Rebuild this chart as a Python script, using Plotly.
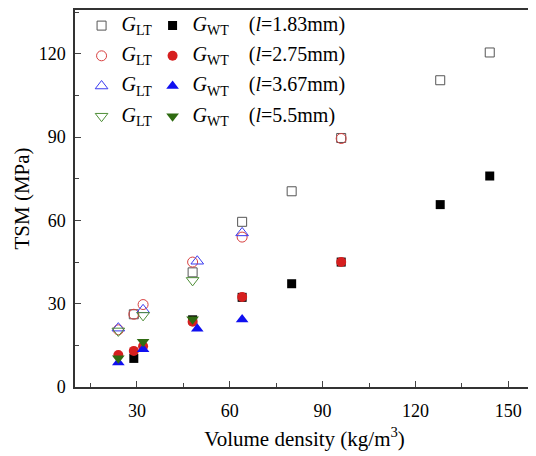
import plotly.graph_objects as go

# ---- data ----
dens_183 = [29, 48, 64, 80, 96, 128, 144]
glt_183 = [26.2, 41.3, 59.5, 70.5, 89.7, 110.5, 120.5]
gwt_183 = [10.3, 24.2, 32.3, 37.2, 45.0, 65.7, 76.0]

dens_275 = [24, 29, 32, 48, 64, 96]
glt_275 = [20.6, 26.2, 29.7, 45.0, 54.0, 89.5]
gwt_275 = [11.5, 13.0, 14.7, 23.5, 32.4, 45.0]

dens_367 = [24, 32, 49.5, 64]
glt_367 = [21.2, 27.8, 45.3, 55.5]
gwt_367 = [8.8, 13.6, 21.0, 24.3]

dens_55 = [24, 32, 48]
glt_55 = [20.2, 25.8, 38.4]
gwt_55 = [10.4, 16.3, 24.4]

cell_lengths = ["1.83", "2.75", "3.67", "5.5"]
x_ticks = [30, 60, 90, 120, 150]
y_ticks = [0, 30, 60, 90, 120]

FONT = "Liberation Serif"
series = [
    (dens_183, glt_183, gwt_183, "square", "#000000", "#555555", 9),
    (dens_275, glt_275, gwt_275, "circle", "#d61f1f", "#d84040", 10),
    (dens_367, glt_367, gwt_367, "triangle-up", "#1010f0", "#3b3bf0", 11),
    (dens_55, glt_55, gwt_55, "triangle-down", "#2f6b12", "#4f8f38", 11),
]

def big(txt):
    return '<span style="font-size:20px">' + txt + '</span>'

fig = go.Figure()
for i, (xd, lt, wt, sym, col, ocol, sz) in enumerate(series):
    fig.add_trace(go.Scatter(
        x=xd, y=lt, mode="markers",
        name=big("<i>G</i><sub>LT</sub>"),
        legend="legend", legendgroup=f"lt{i}", legendrank=i,
        marker=dict(symbol=sym + "-open", size=sz, color=ocol, line=dict(width=1, color=ocol)),
    ))
for i, (xd, lt, wt, sym, col, ocol, sz) in enumerate(series):
    fig.add_trace(go.Scatter(
        x=xd, y=wt, mode="markers",
        name=big("<i>G</i><sub>WT</sub>\u00a0\u00a0\u00a0\u00a0(<i>l</i>=" + cell_lengths[i] + "mm)"),
        legend="legend2", legendgroup=f"wt{i}", legendrank=i,
        marker=dict(symbol=sym, size=sz, color=col, line=dict(width=0)),
    ))

leg_common = dict(
    bgcolor="rgba(0,0,0,0)", borderwidth=0,
    font=dict(family=FONT, size=14, color="#000"),
    tracegroupgap=9, itemclick=False, yanchor="top", xanchor="left",
    y=1.0,
)

fig.update_layout(
    width=528, height=448,
    margin=dict(l=67, r=0, t=1, b=69),
    paper_bgcolor="white", plot_bgcolor="white",
    font=dict(family=FONT, size=18, color="#000"),
    showlegend=True,
    legend=dict(x=0.0143, **leg_common),
    legend2=dict(x=0.169, **leg_common),
    xaxis=dict(
        range=[10, 158.3], tickvals=x_ticks, ticks="inside", ticklen=6, tickwidth=1,
        minor=dict(dtick=15, tick0=15, ticks="inside", ticklen=4),
        showline=True, linecolor="#333", linewidth=1.5, mirror=True,
        showgrid=False, zeroline=False, ticklabelstandoff=7,
        title=dict(text="Volume density (kg/m<sup>3</sup>)", font=dict(size=21), standoff=11),
        tickfont=dict(size=18),
    ),
    yaxis=dict(
        range=[0, 135.8], tickvals=y_ticks, ticks="inside", ticklen=6, tickwidth=1,
        minor=dict(dtick=15, tick0=15, ticks="inside", ticklen=4),
        showline=True, linecolor="#333", linewidth=1.5, mirror=True,
        showgrid=False, zeroline=False, ticklabelstandoff=4,
        title=dict(text="TSM (MPa)", font=dict(size=21), standoff=3),
        tickfont=dict(size=18),
    ),
)

fig.write_html("out.html")
